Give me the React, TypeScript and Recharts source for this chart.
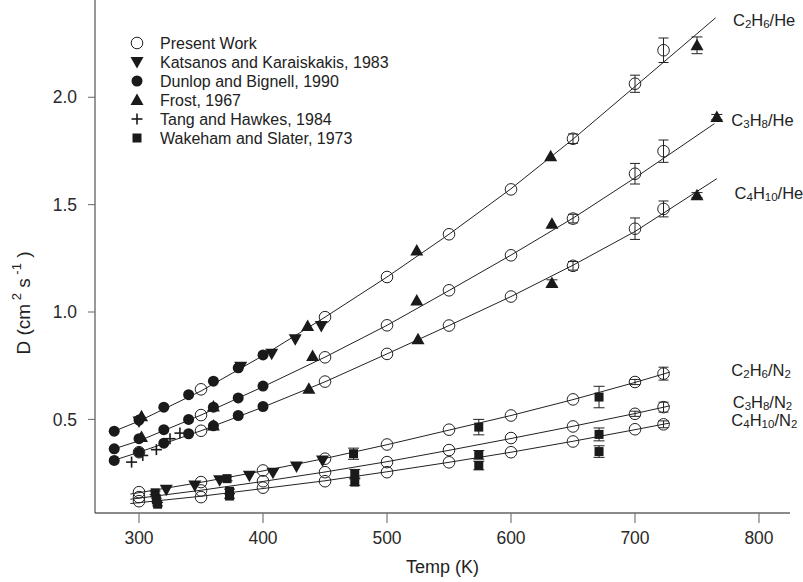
import React from 'react';
import { ScatterChart, Scatter, XAxis, YAxis, ErrorBar, ReferenceDot, Label } from 'recharts';

// ---------- data: [Temp (K), D (cm^2 s^-1), error] ----------
const pwC2H6He = [[350, 0.640], [450, 0.976], [500, 1.163], [550, 1.362], [600, 1.571], [650, 1.807, 0.022], [700, 2.063, 0.04], [723, 2.219, 0.057]];
const pwC3H8He = [[350, 0.520], [450, 0.789], [500, 0.938], [550, 1.101], [600, 1.264], [650, 1.435, 0.02], [700, 1.644, 0.048], [723, 1.749, 0.052]];
const pwC4H10He = [[300, 0.347], [350, 0.447], [450, 0.676], [500, 0.805], [550, 0.937], [600, 1.072], [650, 1.215, 0.02], [700, 1.388, 0.05], [723, 1.480, 0.037]];
const pwC2H6N2 = [[300, 0.161], [350, 0.208], [400, 0.262], [450, 0.317], [500, 0.383], [550, 0.452], [600, 0.518], [650, 0.593], [700, 0.674, 0.012], [723, 0.713, 0.03]];
const pwC3H8N2 = [[300, 0.138], [350, 0.169], [400, 0.212], [450, 0.254], [500, 0.301], [550, 0.357], [600, 0.413], [650, 0.467], [700, 0.526, 0.012], [723, 0.557, 0.023]];
const pwC4H10N2 = [[300, 0.119], [350, 0.138], [400, 0.182], [450, 0.212], [500, 0.254], [550, 0.300], [600, 0.347], [650, 0.397], [700, 0.454], [723, 0.477, 0.016]];

const fitC2H6He = [[280, 0.445], [300, 0.492], [350, 0.632], [400, 0.797], [450, 0.976], [500, 1.163], [550, 1.362], [600, 1.574], [650, 1.805], [700, 2.05], [765, 2.37]];
const fitC3H8He = [[280, 0.363], [300, 0.400], [350, 0.520], [400, 0.652], [450, 0.790], [500, 0.938], [550, 1.100], [600, 1.265], [650, 1.437], [700, 1.625], [764, 1.877]];
const fitC4H10He = [[280, 0.310], [300, 0.347], [350, 0.447], [400, 0.557], [450, 0.675], [500, 0.805], [550, 0.937], [600, 1.072], [650, 1.218], [700, 1.375], [766, 1.621]];
const fitC2H6N2 = [[293, 0.152], [350, 0.207], [400, 0.260], [450, 0.318], [500, 0.382], [550, 0.450], [600, 0.518], [650, 0.592], [700, 0.672], [728, 0.720]];
const fitC3H8N2 = [[293, 0.128], [350, 0.170], [400, 0.211], [450, 0.255], [500, 0.303], [550, 0.356], [600, 0.411], [650, 0.468], [700, 0.527], [728, 0.563]];
const fitC4H10N2 = [[293, 0.108], [350, 0.142], [400, 0.178], [450, 0.214], [500, 0.256], [550, 0.300], [600, 0.347], [650, 0.398], [700, 0.452], [728, 0.483]];

const katsanos = [[300, 0.490], [382, 0.745], [407, 0.806], [426, 0.873], [447, 0.935], [322, 0.172], [345, 0.192], [365, 0.216], [389, 0.238], [408, 0.252], [427, 0.280], [448, 0.308]];
const dunlop = [
  [280, 0.445], [300, 0.497], [320, 0.557], [340, 0.615], [360, 0.678], [380, 0.740], [400, 0.800],
  [280, 0.363], [300, 0.410], [320, 0.452], [340, 0.500], [360, 0.557], [380, 0.600], [400, 0.655],
  [280, 0.309], [300, 0.347], [320, 0.389], [340, 0.433], [360, 0.470], [380, 0.518], [400, 0.560],
];
const frost = [
  [302, 0.515], [436, 0.935], [524, 1.287], [632, 1.725], [750, 2.242, 0.039],
  [302, 0.418], [360, 0.560], [440, 0.795], [524, 1.054], [633, 1.411], [766, 1.908, 0.012],
  [360, 0.472], [437, 0.643], [525, 0.873], [633, 1.135, 0.015], [750, 1.544, 0.012],
];
const tangHawkes = [[294, 0.301], [303, 0.332], [314, 0.359], [325, 0.410], [333, 0.436]];
const wakeham = [
  [313, 0.158, 0.008], [371, 0.224, 0.01], [473, 0.340, 0.026], [574, 0.464, 0.036], [671, 0.604, 0.05],
  [314, 0.125, 0.008], [373, 0.165, 0.01], [474, 0.247, 0.02], [574, 0.335, 0.02], [671, 0.430, 0.03],
  [315, 0.105, 0.008], [373, 0.143, 0.01], [474, 0.208, 0.015], [574, 0.285, 0.02], [671, 0.350, 0.027],
];

const xTicks = [300, 400, 500, 600, 700, 800];
const yTicks = [0.5, 1.0, 1.5, 2.0];

const seriesLabels: { x: number; y: number; parts: [string, boolean][] }[] = [
  { x: 779, y: 2.358, parts: [['C', false], ['2', true], ['H', false], ['6', true], ['/He', false]] },
  { x: 777.7, y: 1.892, parts: [['C', false], ['3', true], ['H', false], ['8', true], ['/He', false]] },
  { x: 780.3, y: 1.552, parts: [['C', false], ['4', true], ['H', false], ['10', true], ['/He', false]] },
  { x: 777.7, y: 0.728, parts: [['C', false], ['2', true], ['H', false], ['6', true], ['/N', false], ['2', true]] },
  { x: 778.8, y: 0.580, parts: [['C', false], ['3', true], ['H', false], ['8', true], ['/N', false], ['2', true]] },
  { x: 777.7, y: 0.495, parts: [['C', false], ['4', true], ['H', false], ['10', true], ['/N', false], ['2', true]] },
];

const legendItems = ['Present Work', 'Katsanos and Karaiskakis, 1983', 'Dunlop and Bignell, 1990', 'Frost, 1967', 'Tang and Hawkes, 1984', 'Wakeham and Slater, 1973'];

// ---------- helpers ----------
const toPts = (arr: number[][]) => arr.map(([x, y, e]) => ({ x, y, e: e ?? 0 }));
const FONT = '"Liberation Sans", Arial, Helvetica, sans-serif';
const INK = '#1a1a1a';

const OpenCircle = (p: any) => <circle cx={p.cx} cy={p.cy} r={5.8} fill="none" stroke="#222" strokeWidth={1} />;
const FilledCircle = (p: any) => <circle cx={p.cx} cy={p.cy} r={5.5} fill={INK} />;
const DownTri = (p: any) => {
  const { cx, cy } = p;
  return <path d={`M${cx - 6.5},${cy - 5} L${cx + 6.5},${cy - 5} L${cx},${cy + 6.5} Z`} fill={INK} />;
};
const UpTri = (p: any) => {
  const { cx, cy } = p;
  return <path d={`M${cx - 6.5},${cy + 5} L${cx + 6.5},${cy + 5} L${cx},${cy - 6.5} Z`} fill={INK} />;
};
const PlusMark = (p: any) => {
  const { cx, cy } = p;
  return (
    <g stroke={INK} strokeWidth={1.6}>
      <line x1={cx - 5.5} y1={cy} x2={cx + 5.5} y2={cy} />
      <line x1={cx} y1={cy - 5.5} x2={cx} y2={cy + 5.5} />
    </g>
  );
};
const SquareMark = (p: any) => <rect x={p.cx - 4.5} y={p.cy - 4.5} width={9} height={9} fill={INK} />;
const NoMark = () => <g />;

const FormulaText = ({ x, y, parts }: { x: number; y: number; parts: [string, boolean][] }) => {
  let prevSub = false;
  return (
    <text x={x} y={y} fontSize={16.5} fill="#222" fontFamily={FONT} dominantBaseline="central">
      {parts.map(([t, sub], i) => {
        const dy = (sub ? 4 : 0) - (prevSub ? 4 : 0);
        prevSub = sub;
        return (
          <tspan key={i} dy={dy} fontSize={sub ? 11.5 : 16.5}>{t}</tspan>
        );
      })}
    </text>
  );
};

const YTitle = (props: any) => (
  <text transform="translate(30,303) rotate(-90)" textAnchor="middle" fontSize={19} fill="#222" fontFamily={FONT}>
    <tspan>D (cm</tspan>
    <tspan dy={-9} fontSize={13}>  2</tspan>
    <tspan dy={9}>  s</tspan>
    <tspan dy={-9} fontSize={13}> -1</tspan>
    <tspan dy={9}> )</tspan>
  </text>
);

const XTitle = (props: any) => {
  const vb = props.viewBox || {};
  return (
    <text x={vb.x + vb.width / 2} y={vb.y + 60} textAnchor="middle" fontSize={18} fill="#222" fontFamily={FONT}>
      Temp (K)
    </text>
  );
};

const legendShapes = [OpenCircle, DownTri, FilledCircle, UpTri, PlusMark, SquareMark];

const Legend = () => (
  <svg width={803} height={582} style={{ position: 'absolute', left: 0, top: 0, pointerEvents: 'none' }}>
    {legendItems.map((label, i) => {
      const Shape = legendShapes[i];
      const cy = 43 + i * 19;
      return (
        <g key={label}>
          <Shape cx={137} cy={cy} />
          <text x={160} y={cy} dominantBaseline="central" fontSize={16} fill="#222" fontFamily={FONT}>{label}</text>
        </g>
      );
    })}
  </svg>
);

const fits = [fitC2H6He, fitC3H8He, fitC4H10He, fitC2H6N2, fitC3H8N2, fitC4H10N2];
const presentWork = [pwC2H6He, pwC3H8He, pwC4H10He, pwC2H6N2, pwC3H8N2, pwC4H10N2];

export default function App() {
  return (
    <div style={{ position: 'absolute', left: 0, top: 0, width: 803, height: 582, background: '#fff' }}>
      <ScatterChart width={803} height={582} margin={{ top: 0, right: 13, bottom: 0, left: 0 }}>
        <XAxis
          type="number"
          dataKey="x"
          domain={[264.5, 825]}
          ticks={xTicks}
          allowDataOverflow
          height={69}
          axisLine={{ stroke: '#8a8a8a', strokeWidth: 2 }}
          tickLine={{ stroke: '#777', strokeWidth: 1.2 }}
          tickSize={10}
          tickMargin={9}
          tick={{ fontSize: 17.5, fill: '#2a2a2a', fontFamily: FONT }}
        >
          <Label content={XTitle} />
        </XAxis>
        <YAxis
          type="number"
          dataKey="y"
          domain={[0.064, 2.453]}
          ticks={yTicks}
          allowDataOverflow
          width={95}
          axisLine={{ stroke: '#333', strokeWidth: 1 }}
          tickLine={{ stroke: '#666', strokeWidth: 1 }}
          tickSize={7}
          tickMargin={11}
          tickFormatter={(v: number) => v.toFixed(1)}
          tick={{ fontSize: 17.5, fill: '#2a2a2a', fontFamily: FONT }}
        >
          <Label content={YTitle} />
        </YAxis>

        {fits.map((f, i) => (
          <Scatter
            key={'fit' + i}
            data={toPts(f)}
            line={{ stroke: '#222', strokeWidth: 1 }}
            lineJointType="linear"
            shape={NoMark}
            isAnimationActive={false}
          />
        ))}

        {presentWork.map((s, i) => (
          <Scatter key={'pw' + i} data={toPts(s)} shape={OpenCircle} isAnimationActive={false}>
            <ErrorBar dataKey="e" direction="y" width={5} stroke="#222" strokeWidth={1} isAnimationActive={false} />
          </Scatter>
        ))}

        <Scatter data={toPts(dunlop)} shape={FilledCircle} isAnimationActive={false} />
        <Scatter data={toPts(tangHawkes)} shape={PlusMark} isAnimationActive={false} />
        <Scatter data={toPts(frost)} shape={UpTri} isAnimationActive={false}>
          <ErrorBar dataKey="e" direction="y" width={5.5} stroke="#222" strokeWidth={1} isAnimationActive={false} />
        </Scatter>
        <Scatter data={toPts(katsanos)} shape={DownTri} isAnimationActive={false} />
        <Scatter data={toPts(wakeham)} shape={SquareMark} isAnimationActive={false}>
          <ErrorBar dataKey="e" direction="y" width={5.5} stroke="#222" strokeWidth={1} isAnimationActive={false} />
        </Scatter>

        {seriesLabels.map((l, i) => (
          <ReferenceDot
            key={'lbl' + i}
            x={l.x}
            y={l.y}
            r={0}
            ifOverflow="visible"
            shape={(p: any) => <FormulaText x={p.cx} y={p.cy} parts={l.parts} />}
          />
        ))}
      </ScatterChart>
      <Legend />
    </div>
  );
}
